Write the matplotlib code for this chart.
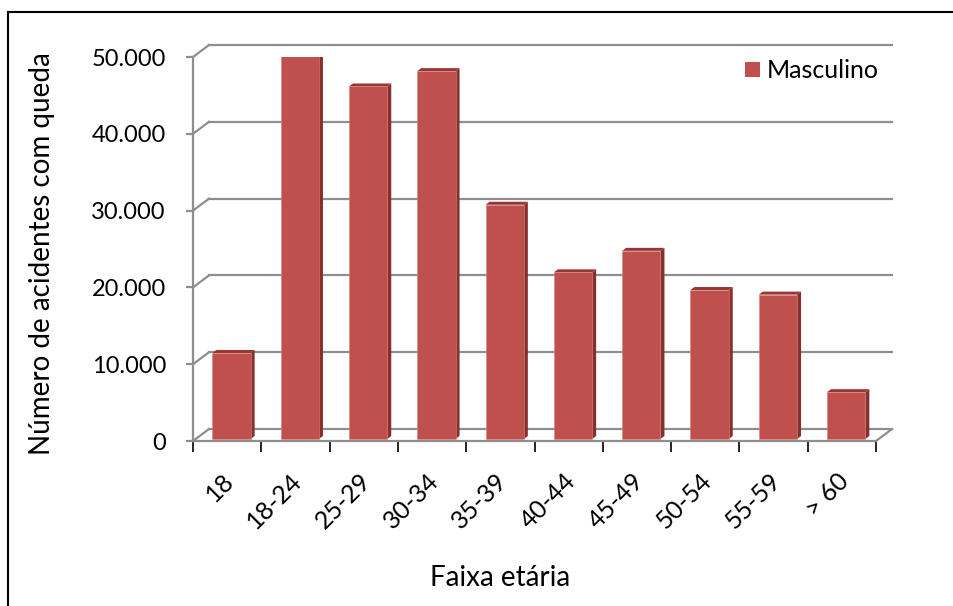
import matplotlib
matplotlib.use("Agg")
import matplotlib.pyplot as plt
from matplotlib.patches import Polygon, Rectangle
from matplotlib.lines import Line2D
from matplotlib.ticker import FuncFormatter
from matplotlib.transforms import ScaledTranslation

# Acidentes com queda por faixa etária (sexo masculino)
faixas = ["18", "18-24", "25-29", "30-34", "35-39", "40-44", "45-49", "50-54", "55-59", "> 60"]
masculino = [11200, 50000, 45900, 47900, 30500, 21700, 24500, 19400, 18800, 6100]
y_ticks = [0, 10000, 20000, 30000, 40000, 50000]

W, H, DPI = 954, 606, 100
fig = plt.figure(figsize=(W / DPI, H / DPI), dpi=DPI)
plt.rcParams["font.family"] = ["Lato", "DejaVu Sans"]

# front plane of the plot area, in pixels
x0, x1, yb, yt = 193, 876, 441, 57
ax = fig.add_axes([x0 / W, 1 - yb / H, (x1 - x0) / W, (yb - yt) / H])
n = len(faixas)
ax.set_xlim(-0.5, n - 0.5)
ax.set_ylim(0, 50000)
ax.patch.set_visible(False)

px_x = n / (x1 - x0)            # data units per pixel, horizontal
px_y = 50000 / (yb - yt)        # data units per pixel, vertical

grid_c = "#8e8e8e"
# 3D depth of the back wall
dx, dy = 16 * px_x, 12 * px_y
for v in y_ticks:
    ax.add_line(Line2D([-0.5 + dx, n - 0.5 + dx], [v + dy, v + dy], color=grid_c, lw=1.6, clip_on=False, zorder=1))
    ax.add_line(Line2D([-0.5, -0.5 + dx], [v, v + dy], color=grid_c, lw=1.6, clip_on=False, zorder=1))
ax.add_line(Line2D([n - 0.5, n - 0.5 + dx], [0, dy], color=grid_c, lw=1.6, clip_on=False, zorder=1))

# 3D columns
front_c, side_c, top_c = "#C0504D", "#84302E", "#963735"
bw = 0.56
off = 0.064
bdx, bdy = 4 * px_x, 3 * px_y
base = 2 * px_y
for i, v in enumerate(masculino):
    xl = i + off - bw / 2
    xr = xl + bw
    ax.add_patch(Polygon([[xr, base], [xr + bdx, base + bdy], [xr + bdx, v + base + bdy], [xr, v + base]],
                         closed=True, facecolor=side_c, edgecolor="none", zorder=3))
    ax.add_patch(Polygon([[xl, v + base], [xl + bdx, v + base + bdy], [xr + bdx, v + base + bdy], [xr, v + base]],
                         closed=True, facecolor=top_c, edgecolor="none", zorder=3))
ax.bar([i + off for i in range(n)], masculino, width=bw, bottom=base, color=front_c,
       edgecolor="#d9837f", linewidth=0.4, zorder=4)

# axes
for s in ["top", "right"]:
    ax.spines[s].set_visible(False)
for s in ["left", "bottom"]:
    ax.spines[s].set_color(grid_c)
    ax.spines[s].set_linewidth(1.6)
    ax.spines[s].set_zorder(2)

ax.set_yticks(y_ticks)
ax.yaxis.set_major_formatter(FuncFormatter(lambda v, p: f"{int(v):,}".replace(",", ".")))
ax.tick_params(axis="y", length=5, width=1.6, color=grid_c, labelsize=17, pad=14.5)

ax.set_xticks(range(n))
ax.set_xticklabels(faixas, rotation=45, ha="right", va="top", rotation_mode="anchor")
ax.tick_params(axis="x", which="major", length=0, labelsize=18, pad=20)
ax.set_xticks([i - 0.5 for i in range(n + 1)], minor=True)
ax.tick_params(axis="x", which="minor", length=8, width=1.2, color="black")
shift = ScaledTranslation(-5 / DPI, 0, fig.dpi_scale_trans)
for lbl in ax.get_xticklabels():
    lbl.set_transform(lbl.get_transform() + shift)

fig.text(42 / W, 1 - 254 / H, "Número de acidentes com queda", rotation=90, ha="center", va="center", fontsize=20)
fig.text(500 / W, 1 - 578 / H, "Faixa etária", ha="center", va="center", fontsize=20)

# legend
fig.add_artist(Rectangle((745 / W, 1 - 77 / H), 15 / W, 15 / H, transform=fig.transFigure,
                         facecolor=front_c, edgecolor="none"))
fig.text(767 / W, 1 - 70 / H, "Masculino", ha="left", va="center", fontsize=18)

# chart frame
fig.add_artist(Line2D([8 / W, 8 / W], [0, 1 - 12 / H], transform=fig.transFigure, color="black", lw=1.5))
fig.add_artist(Line2D([8 / W, 1], [1 - 12 / H, 1 - 12 / H], transform=fig.transFigure, color="black", lw=1.5))

fig.savefig("out.png", dpi=DPI)
